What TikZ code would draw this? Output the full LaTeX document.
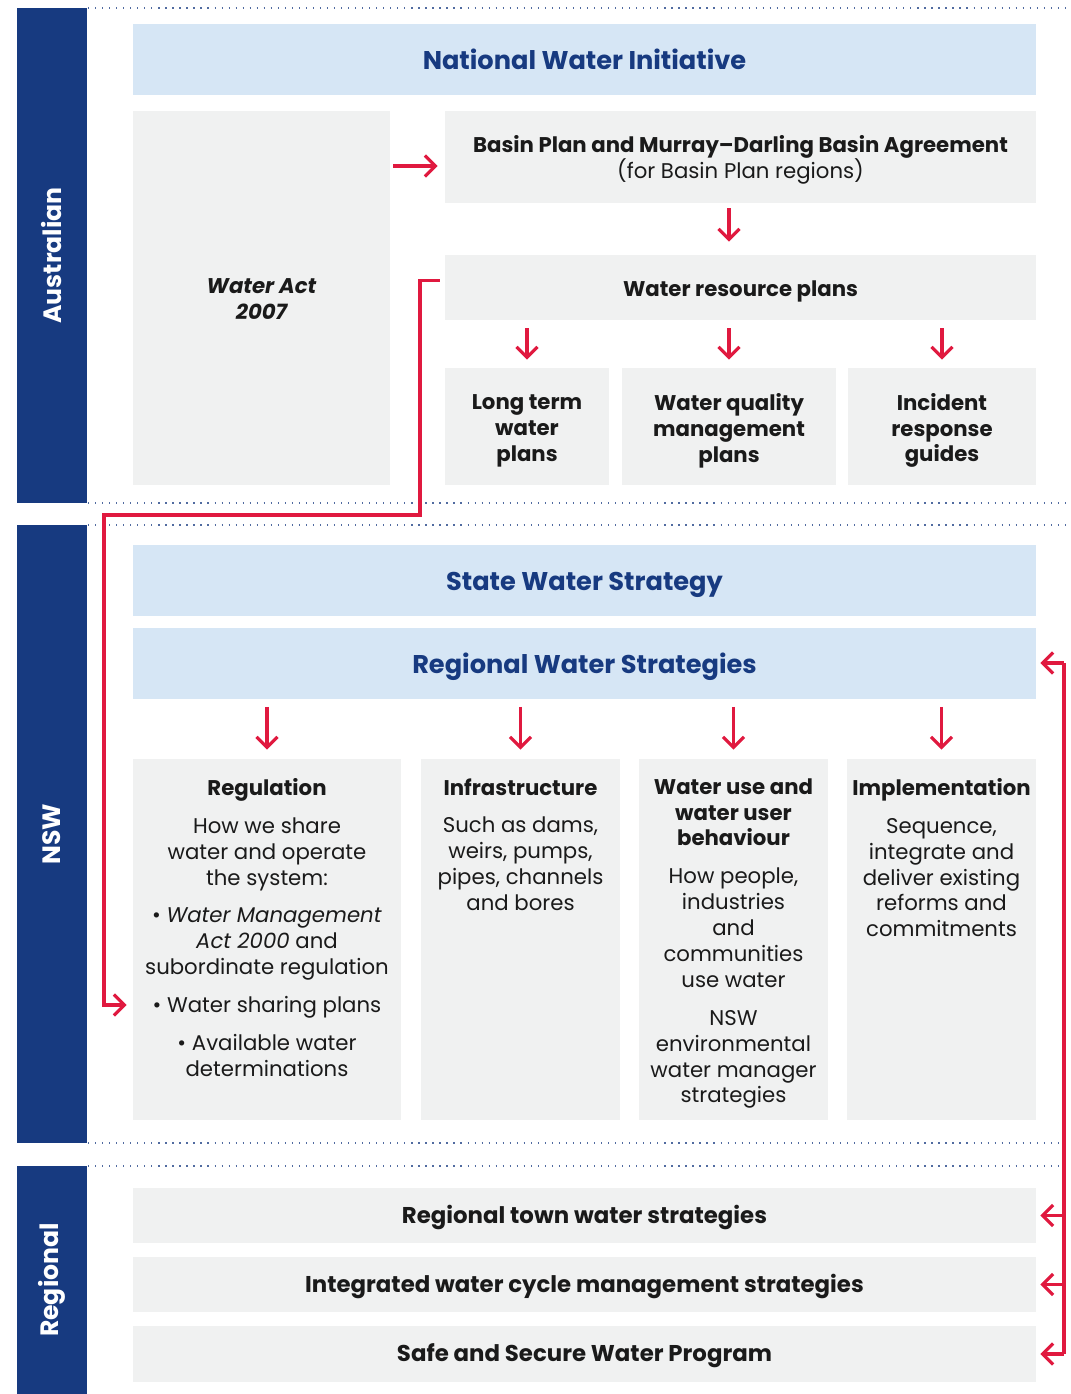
\documentclass[tikz,border=0pt]{standalone}
\usepackage{fontspec}
\setmainfont{Poppins}
\usepackage{tikz}
\usetikzlibrary{arrows.meta, positioning}

\definecolor{navy}{HTML}{173A80}
\definecolor{flowred}{HTML}{E0193F}
\definecolor{paleblue}{HTML}{D6E6F5}
\definecolor{panelgray}{HTML}{F0F1F1}
\definecolor{inkblack}{HTML}{1A1A1A}

\def\pxu{0.02cm}
\newcommand{\topfix}[1]{\rule{0pt}{#1}}
\newcommand{\botfix}[1]{\rule[-#1]{0pt}{#1}}

\begin{document}
\begin{tikzpicture}[
    x=0.02cm, y=-0.02cm,
    font=\fontsize{12.1}{14.74}\selectfont,
    text=inkblack,
    >={Straight Barb[length=6pt, width=12pt]},
    sidebar/.style={fill=navy, text=white, rotate=90, inner sep=0pt, minimum height=70*\pxu, font=\fontsize{14.3}{17}\selectfont\bfseries},
    headbox/.style={fill=paleblue, text=navy, inner sep=0pt, minimum width=903*\pxu, minimum height=71*\pxu, execute at begin node=\topfix{15.4pt}, execute at end node=\botfix{3.5pt}, font=\fontsize{14.6}{17}\selectfont\bfseries},
    panel/.style={fill=panelgray, inner sep=0pt},
    paneltext/.style={align=center, inner sep=0pt},
    boldtext/.style={paneltext, font=\fontsize{12.1}{14.74}\selectfont\bfseries},
    linebox/.style={panel, execute at begin node=\topfix{13.7pt}, execute at end node=\botfix{3.5pt}, font=\fontsize{12.1}{14.74}\selectfont\bfseries},
    rowbox/.style={panel, minimum width=903*\pxu, execute at begin node=\topfix{12.6pt}, execute at end node=\botfix{3.5pt}, font=\fontsize{13}{15.6}\selectfont\bfseries},
    colbox/.style={panel, minimum height=361*\pxu},
    coltext/.style={paneltext, anchor=north},
    divider/.style={navy!75, line width=0.9pt, dash pattern=on 0.7pt off 3.3pt},
    redline/.style={flowred, line width=1.8pt},
    redarrow/.style={redline, ->}
]
\useasboundingbox (0,0) rectangle (1071,1394);

% Side bars
\node[sidebar, minimum width=495*\pxu] (aus) at (52,255.5) {Australian};
\node[sidebar, minimum width=618*\pxu] (nsw) at (52,834) {NSW};
\node[sidebar, minimum width=228*\pxu] (reg) at (52,1280) {Regional};

% Dotted dividers
\draw[divider] (88,8) -- (1071,8);
\draw[divider] (88,503) -- (1071,503);
\draw[divider] (88,525) -- (1071,525);
\draw[divider] (88,1143) -- (1071,1143);
\draw[divider] (88,1166) -- (1071,1166);

% Australian level
\node[headbox] (nwi) at (584.5,59.5) {National Water Initiative};
\node[panel, minimum width=257*\pxu, minimum height=374*\pxu] (act) at (261.5,298) {};
\node[paneltext, yshift=-1*\pxu, font=\fontsize{12.1}{14.74}\selectfont\bfseries\itshape] (acttext) at (act) {Water Act\\2007};
\node[panel, minimum width=591*\pxu, minimum height=92*\pxu] (basin) at (740.5,157) {};
\node[paneltext, yshift=-3*\pxu] (basintext) at (basin) {\textbf{Basin Plan and Murray–Darling Basin Agreement}\\(for Basin Plan regions)};
\node[linebox, minimum width=591*\pxu, minimum height=65*\pxu] (wrp) at (740.5,287.5) {Water resource plans};
\node[panel, minimum width=164*\pxu, minimum height=117*\pxu] (ltwp) at (527,426.5) {};
\node[panel, minimum width=214*\pxu, minimum height=117*\pxu] (wqmp) at (729,426.5) {};
\node[panel, minimum width=188*\pxu, minimum height=117*\pxu] (irg) at (942,426.5) {};
\node[boldtext, yshift=-4*\pxu] (ltwptext) at (ltwp) {Long term\\water\\plans};
\node[boldtext, yshift=-4*\pxu] (wqmptext) at (wqmp) {Water quality\\management\\plans};
\node[boldtext, yshift=-4*\pxu] (irgtext) at (irg) {Incident\\response\\guides};

% NSW level
\node[headbox] (sws) at (584.5,580) {State Water Strategy};
\node[headbox] (rws) at (584.5,663) {Regional Water Strategies};
\node[colbox, minimum width=268*\pxu] (regul) at (267,939.5) {};
\node[colbox, minimum width=199*\pxu] (infra) at (520.5,939.5) {};
\node[colbox, minimum width=189*\pxu] (wuse) at (733.5,939.5) {};
\node[colbox, minimum width=189*\pxu] (impl) at (941.5,939.5) {};

\node[coltext, below=0.388cm of regul.north] (regultext) {\textbf{Regulation}\\[6.8pt]
    How we share\\water and operate\\the system:\\[6.8pt]
    • \textit{Water Management}\\\textit{Act 2000} and\\subordinate regulation\\[6.8pt]
    • Water sharing plans\\[6.8pt]
    • Available water\\determinations};
\node[coltext, below=0.388cm of infra.north] (infratext) {\textbf{Infrastructure}\\[6.8pt]
    Such as dams,\\weirs, pumps,\\pipes, channels\\and bores};
\node[coltext, below=0.388cm of wuse.north] (wusetext) {\textbf{Water use and}\\\textbf{water user}\\\textbf{behaviour}\\[6.8pt]
    How people,\\industries\\and\\communities\\use water\\[6.8pt]
    NSW\\environmental\\water manager\\strategies};
\node[coltext, below=0.388cm of impl.north] (impltext) {\textbf{Implementation}\\[6.8pt]
    Sequence,\\integrate and\\deliver existing\\reforms and\\commitments};

% Regional level
\node[rowbox, minimum height=55*\pxu] (town) at (584.5,1215.5) {Regional town water strategies};
\node[rowbox, minimum height=55*\pxu] (iwcm) at (584.5,1284.5) {Integrated water cycle management strategies};
\node[rowbox, minimum height=56*\pxu] (safe) at (584.5,1354) {Safe and Secure Water Program};

% Arrows - Australian
\draw[redarrow, shorten <=3*\pxu, shorten >=7*\pxu] ([yshift=-9*\pxu]act.east |- basin) -- ([yshift=-9*\pxu]basin.west);
\draw[redarrow, shorten <=5*\pxu, shorten >=13*\pxu] (basin.south -| wqmp) -- (wrp.north -| wqmp);
\foreach \kid in {ltwp, wqmp, irg}
    \draw[redarrow, shorten <=8*\pxu, shorten >=8*\pxu] (wrp.south -| \kid) -- (\kid.north);

% Arrows - NSW
\foreach \kid in {regul, infra, wuse, impl}
    \draw[redarrow, shorten <=8*\pxu, shorten >=9*\pxu] (rws.south -| \kid) -- (\kid.north);

% Water resource plans feed the regulation column
\coordinate (bendA) at (420,515);
\coordinate (bendB) at (104,515);
\coordinate (regin) at (regul.west |- 0,1005);
\draw[redarrow, shorten >=6*\pxu] ([xshift=-5*\pxu, yshift=7*\pxu]wrp.west) -| (bendA) -- (bendB) |- (regin);

% Bracket on the right
\coordinate (rtop) at (1064,663);
\coordinate (rbot) at (1064,1354);
\draw[redline] (rtop) -- (rbot);
\draw[redarrow, shorten >=4*\pxu] (rtop) -- (rws.east);
\foreach \kid in {town, iwcm, safe}
    \draw[redarrow, shorten >=4*\pxu] (\kid.east -| rtop) -- (\kid.east);

\end{tikzpicture}
\end{document}
